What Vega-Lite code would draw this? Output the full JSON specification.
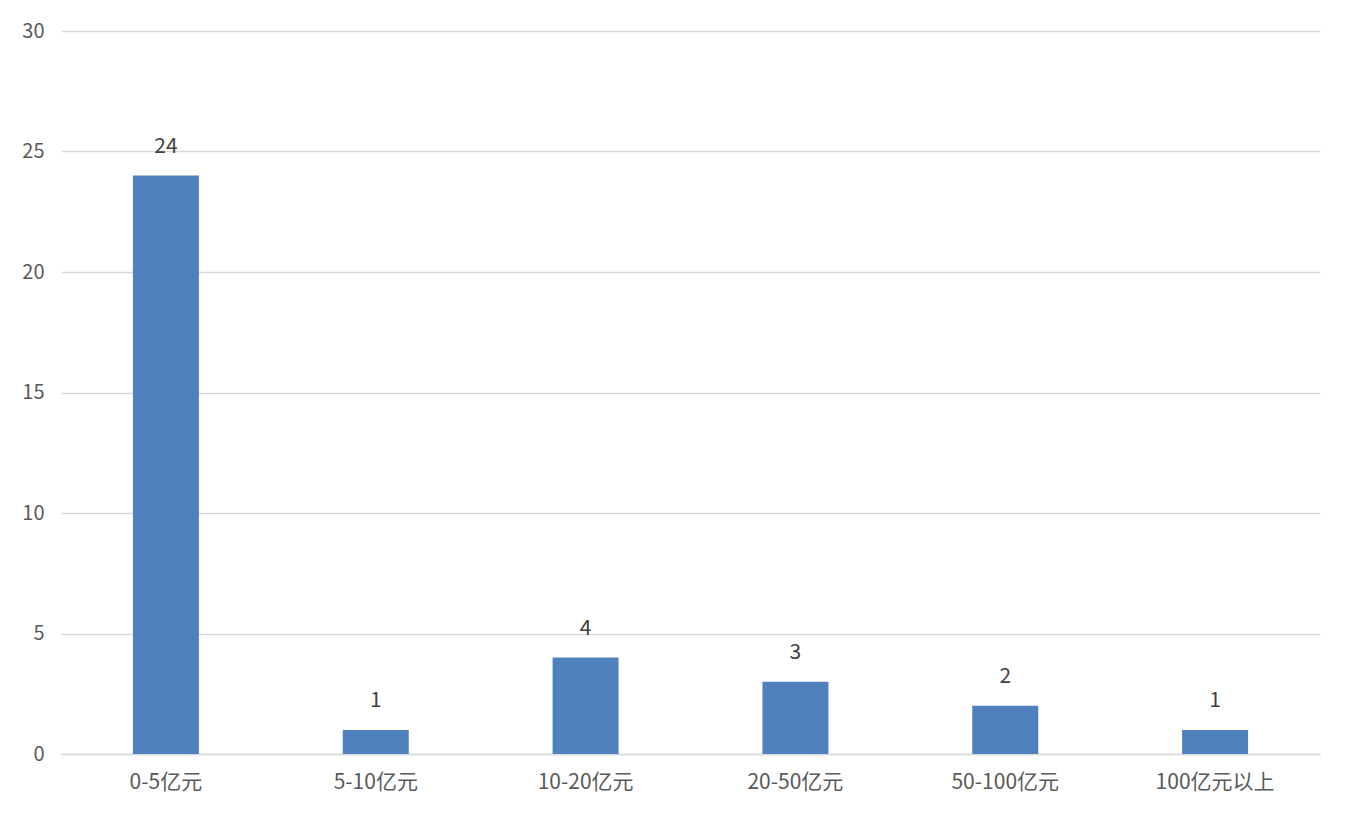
{
  "$schema": "https://vega.github.io/schema/vega-lite/v6.json",
  "autosize": "none",
  "width": 1259,
  "height": 723,
  "padding": {"left": 61, "top": 31, "right": 30, "bottom": 66},
  "background": "white",
  "config": {
    "view": {"stroke": null},
    "font": "Noto Sans CJK SC"
  },
  "data": {
    "values": [
      {"range": "0-5亿元", "count": 24},
      {"range": "5-10亿元", "count": 1},
      {"range": "10-20亿元", "count": 4},
      {"range": "20-50亿元", "count": 3},
      {"range": "50-100亿元", "count": 2},
      {"range": "100亿元以上", "count": 1}
    ]
  },
  "encoding": {
    "x": {
      "field": "range",
      "type": "nominal",
      "sort": null,
      "scale": {"paddingInner": 0, "paddingOuter": 0},
      "axis": {
        "title": null,
        "labelAngle": 0,
        "labelFont": "Noto Sans CJK SC",
        "labelFontSize": 21,
        "labelColor": "#595959",
        "labelPadding": 17,
        "ticks": false,
        "domainColor": "#d9d9d9",
        "domainWidth": 1.5,
        "grid": false
      }
    },
    "y": {
      "field": "count",
      "type": "quantitative",
      "scale": {"domain": [0, 30], "nice": false},
      "axis": {
        "title": null,
        "values": [0, 5, 10, 15, 20, 25, 30],
        "labelFont": "Noto Sans CJK SC",
        "labelFontSize": 20,
        "labelColor": "#595959",
        "labelPadding": 17,
        "ticks": false,
        "domain": false,
        "gridColor": "#d9d9d9",
        "gridWidth": 1.5
      }
    }
  },
  "layer": [
    {
      "mark": {"type": "bar", "color": "#4f81bd", "size": 66}
    },
    {
      "mark": {
        "type": "text",
        "baseline": "middle",
        "dy": -29,
        "fontSize": 21,
        "color": "#404040",
        "font": "Noto Sans CJK SC"
      },
      "encoding": {"text": {"field": "count", "type": "quantitative"}}
    }
  ]
}
